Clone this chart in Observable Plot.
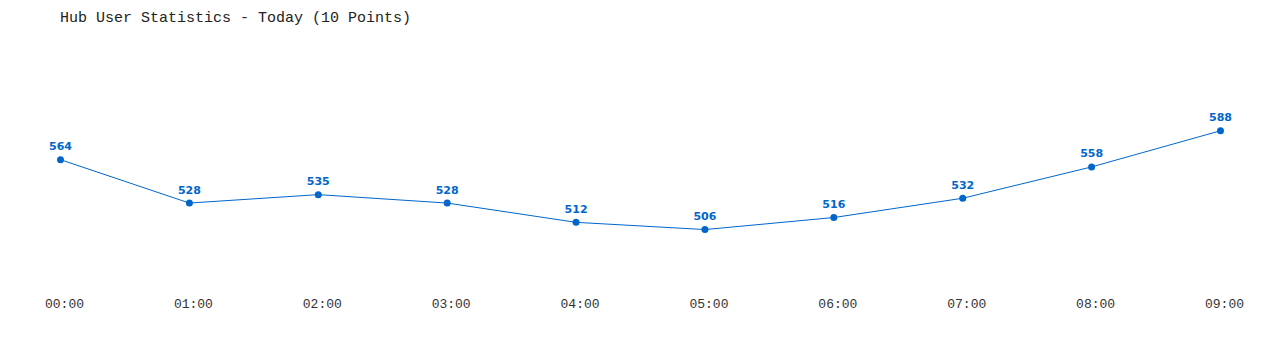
<!DOCTYPE html>
<html>
<head>
<meta charset="utf-8">
<script src="https://cdn.jsdelivr.net/npm/d3@7"></script>
<script src="https://cdn.jsdelivr.net/npm/@observablehq/plot@0.6"></script>
<style>
  html, body { margin: 0; padding: 0; background: #fff; }
  #title { height: 34px; padding-top: 2px; line-height: 34px; padding-left: 60px; font-family: "Liberation Mono", "DejaVu Sans Mono", monospace; font-size: 15px; color: #222; white-space: pre; }
  #chart svg { display: block; }
</style>
</head>
<body>
<div id="title">Hub User Statistics - Today (10 Points)</div>
<div id="chart"></div>
<script>
const times = ["00:00","01:00","02:00","03:00","04:00","05:00","06:00","07:00","08:00","09:00"];
const users = [564, 528, 535, 528, 512, 506, 516, 532, 558, 588];

const data = times.map((t, i) => ({ t, v: users[i] }));
const color = "#0066cc";

const chart = Plot.plot({
  width: 1280,
  height: 314,
  marginLeft: 60,
  marginRight: 60,
  marginTop: 0,
  marginBottom: 52,
  style: { background: "#fff", overflow: "visible" },
  x: { type: "point", domain: times, range: [60, 1220], padding: 0, round: false, axis: null },
  y: { type: "linear", domain: [460, 600], range: [248.5, 79.8], axis: null },
  marks: [
    Plot.axisX({
      tickSize: 0,
      tickPadding: 0,
      label: null,
      dx: 4,
      fontFamily: "Liberation Mono, DejaVu Sans Mono, monospace",
      fontSize: 13,
      fill: "#333"
    }),
    Plot.line(data, { x: "t", y: "v", stroke: color, strokeWidth: 1 }),
    Plot.dot(data, { x: "t", y: "v", fill: color, r: 3.5 }),
    Plot.text(data, {
      x: "t", y: "v", text: d => String(d.v),
      dy: -13, fill: color,
      fontFamily: "DejaVu Sans, Verdana, sans-serif",
      fontWeight: "bold", fontSize: 11
    })
  ]
});
document.getElementById("chart").appendChild(chart);
</script>
</body>
</html>
